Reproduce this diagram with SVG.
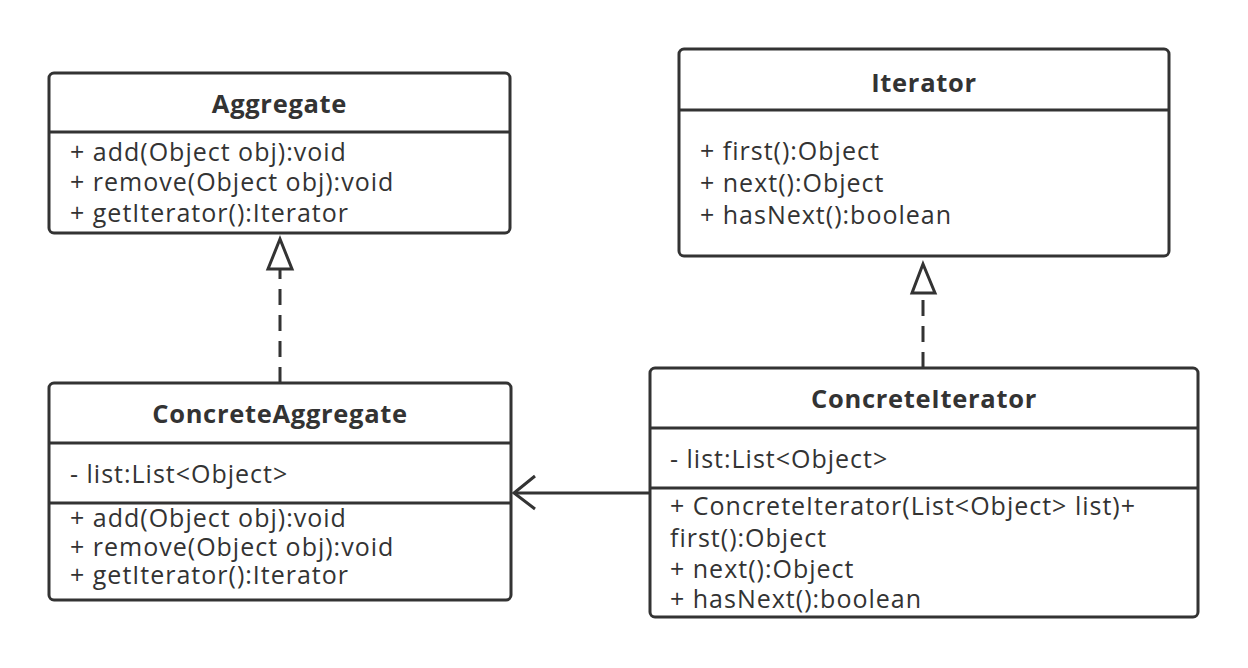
<svg xmlns="http://www.w3.org/2000/svg" width="1248" height="668" viewBox="0 0 1248 668">
<style>
.box{fill:#fff;stroke:#333;stroke-width:3}
.div{stroke:#333;stroke-width:3}
.t{font-family:"Open Sans","Noto Sans",sans-serif;font-size:25px;fill:#333;letter-spacing:1px}
.h{font-family:"Open Sans","Noto Sans",sans-serif;font-size:25.5px;font-weight:bold;fill:#333;text-anchor:middle;letter-spacing:0.7px}
.c{stroke:#333;stroke-width:3;fill:none}
.dash{stroke-dasharray:16 10}
.tri{fill:#fff;stroke:#333;stroke-width:3;stroke-linejoin:miter}
</style>
<rect width="1248" height="668" fill="#fff"/>
<g id="connectors">
<path class="c dash" d="M280 383 V270"/>
<polygon class="tri" points="280,239 268,269 292,269"/>
<path class="c dash" d="M923 368 V294"/>
<polygon class="tri" points="923,264 912,293 935,293"/>
<path class="c" d="M649 493 H515"/>
<path class="c" d="M535 476 L514 493 L535 509"/>
</g>
<g id="Aggregate">
<rect class="box" x="49" y="73" width="461" height="160" rx="5"/>
<line class="div" x1="49" y1="132" x2="510" y2="132"/>
<text class="h" x="279.5" y="113">Aggregate</text>
<text class="t" x="70" y="161">+ add(Object obj):void</text>
<text class="t" x="70" y="191">+ remove(Object obj):void</text>
<text class="t" x="70" y="222">+ getIterator():Iterator</text>
</g>
<g id="Iterator">
<rect class="box" x="679" y="49" width="490" height="207" rx="5"/>
<line class="div" x1="679" y1="110" x2="1169" y2="110"/>
<text class="h" x="924" y="92">Iterator</text>
<text class="t" x="700" y="160">+ first():Object</text>
<text class="t" x="700" y="192">+ next():Object</text>
<text class="t" x="700" y="224">+ hasNext():boolean</text>
</g>
<g id="ConcreteAggregate">
<rect class="box" x="49" y="383" width="462" height="217" rx="5"/>
<line class="div" x1="49" y1="443" x2="511" y2="443"/>
<line class="div" x1="49" y1="503" x2="511" y2="503"/>
<text class="h" x="280" y="423">ConcreteAggregate</text>
<text class="t" x="70" y="483">- list:List&lt;Object&gt;</text>
<text class="t" x="70" y="527">+ add(Object obj):void</text>
<text class="t" x="70" y="556">+ remove(Object obj):void</text>
<text class="t" x="70" y="584">+ getIterator():Iterator</text>
</g>
<g id="ConcreteIterator">
<rect class="box" x="650" y="368" width="548" height="249" rx="5"/>
<line class="div" x1="650" y1="428" x2="1198" y2="428"/>
<line class="div" x1="650" y1="488" x2="1198" y2="488"/>
<text class="h" x="924" y="408">ConcreteIterator</text>
<text class="t" x="670" y="468">- list:List&lt;Object&gt;</text>
<text class="t" x="670" y="515">+ ConcreteIterator(List&lt;Object&gt; list)+</text>
<text class="t" x="670" y="547">first():Object</text>
<text class="t" x="670" y="578">+ next():Object</text>
<text class="t" x="670" y="608">+ hasNext():boolean</text>
</g>
</svg>
